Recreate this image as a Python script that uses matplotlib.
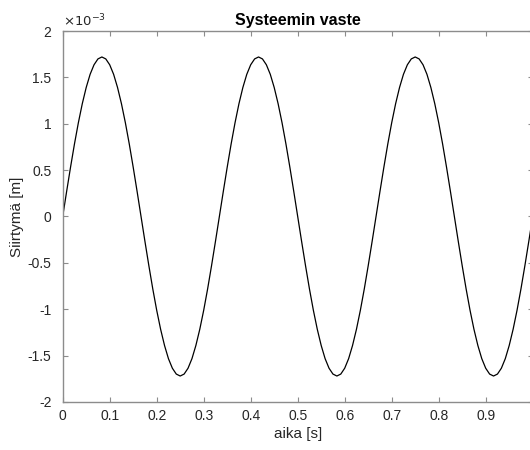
import numpy as np
import matplotlib.pyplot as plt

plt.rcParams['font.family'] = ['Liberation Sans', 'DejaVu Sans']

# displacement, units of 1e-3 m, one sample every 1/120 s
quarter = [0.0, 0.269, 0.531, 0.781, 1.011, 1.216, 1.391, 1.533, 1.636, 1.699, 1.72]
half = quarter + quarter[-2::-1]                 # 0 .. peak .. 0
period = half[:-1] + [-v for v in half[:-1]]     # one full cycle, 40 samples
disp_e3 = period * 3 + [0.0]
time_s = np.linspace(0, 1, len(disp_e3))

xticks = [0, 0.1, 0.2, 0.3, 0.4, 0.5, 0.6, 0.7, 0.8, 0.9, 1]
xlabels = ['0', '0.1', '0.2', '0.3', '0.4', '0.5', '0.6', '0.7', '0.8', '0.9', '1']
yticks = [-2, -1.5, -1, -0.5, 0, 0.5, 1, 1.5, 2]
ylabels = ['-2', '-1.5', '-1', '-0.5', '0', '0.5', '1', '1.5', '2']

spine_col = '#8c8c8c'
text_col = '#262626'

fig = plt.figure(figsize=(5.3, 4.5), dpi=100)
ax = fig.add_axes([0.1183, 0.1067, 0.8868, 0.8244])
ax.plot(time_s, disp_e3, color='black', lw=0.9)

ax.set_xlim(0, 1)
ax.set_ylim(-2, 2)
ax.set_xticks(xticks)
ax.set_xticklabels(xlabels)
ax.set_yticks(yticks)
ax.set_yticklabels(ylabels)
ax.tick_params(direction='in', length=3.5, width=0.8, color=spine_col,
               labelcolor=text_col, labelsize=10, top=True, right=True, pad=5)
ax.tick_params(axis='y', pad=8)
for s in ax.spines.values():
    s.set_color(spine_col)
    s.set_linewidth(1.0)

ax.text(0.0, 1.005, r'$\times 10^{-3}$', transform=ax.transAxes, ha='left', va='bottom',
        fontsize=9.5, color=text_col)
ax.set_title('Systeemin vaste', fontsize=11.5, fontweight='bold', color='black', pad=4)
ax.set_xlabel('aika [s]', fontsize=11, color=text_col, labelpad=3)
ax.set_ylabel('Siirtymä [m]', fontsize=11, color=text_col, labelpad=3)

fig.savefig('out.png', dpi=100)
